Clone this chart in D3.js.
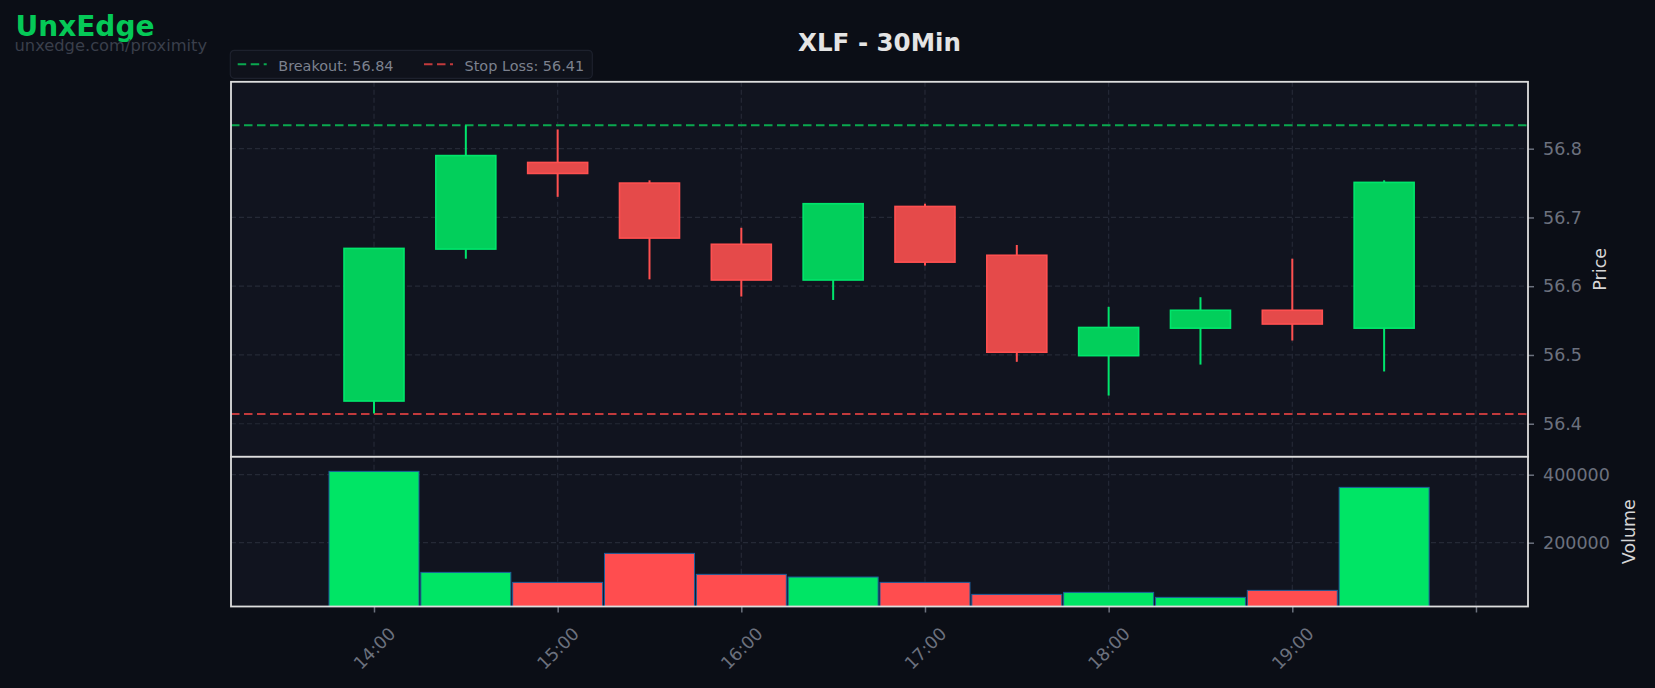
<!DOCTYPE html>
<html>
<head>
<meta charset="utf-8">
<script src="https://cdn.jsdelivr.net/npm/d3@7"></script>
<style>
    html, body { margin: 0; padding: 0; background: #0b0e16; }
    svg { display: block; font-family: "DejaVu Sans", sans-serif; }
    .tickLabel { fill: #6c717e; font-size: 17.5px; }
    .axisTitle { fill: #d6d6d6; font-size: 17.5px; }
    .legendText { fill: #7c818e; font-size: 14.4px; }
</style>
</head>
<body>
<div id="wrapper"></div>
<script>

// candles (30 min)
const times = ["14:00", "14:30", "15:00", "15:30", "16:00", "16:30", "17:00", "17:30", "18:00", "18:30", "19:00", "19:30"];
const opens = [56.433, 56.654, 56.780, 56.750, 56.661, 56.609, 56.716, 56.645, 56.499, 56.539, 56.565, 56.539];
const highs = [56.655, 56.834, 56.828, 56.754, 56.685, 56.721, 56.720, 56.660, 56.570, 56.584, 56.640, 56.754];
const lows = [56.415, 56.640, 56.730, 56.610, 56.585, 56.580, 56.630, 56.490, 56.441, 56.486, 56.521, 56.476];
const closes = [56.655, 56.790, 56.764, 56.670, 56.609, 56.720, 56.635, 56.504, 56.540, 56.565, 56.545, 56.751];
const volumes = [409800, 112700, 83300, 168600, 106900, 99000, 83300, 48000, 53900, 39200, 59800, 362700];

// ticks
const priceTicks = [56.4, 56.5, 56.6, 56.7, 56.8];
const volumeTicks = [200000, 400000];
const hourTicks = ["14:00", "15:00", "16:00", "17:00", "18:00", "19:00", "20:00"];
const hourLabels = ["14:00", "15:00", "16:00", "17:00", "18:00", "19:00", ""];

// levels
const levelNames = ["Breakout", "Stop Loss"];
const levelValues = [56.834, 56.414];
const levelLabels = ["56.84", "56.41"];


function drawChart() {

    const green = "#02cf5b";
    const greenEdge = "#00e66c";
    const red = "#e54a4a";
    const redEdge = "#ff5050";

    let dimensions = {
        width: 1655,
        height: 688,
        margin: {
            top: 81.8,
            right: 127,
            bottom: 81.5,
            left: 231
        },
        priceH: 375,
        volH: 149.7
    };
    dimensions.boundedW = dimensions.width - dimensions.margin.left - dimensions.margin.right;

    const parseTime = d3.timeParse("%H:%M");
    const parseTimeSec = d3.timeParse("%H:%M:%S");

    const candles = times.map((t, i) => ({
        date: parseTime(t),
        open: opens[i],
        high: highs[i],
        low: lows[i],
        close: closes[i],
        volume: volumes[i],
        up: closes[i] >= opens[i]
    }));

    const wrapper = d3.select('#wrapper')
        .append('svg')
        .attr('width', dimensions.width)
        .attr('height', dimensions.height);

    wrapper.append("rect")
        .attr("width", dimensions.width)
        .attr("height", dimensions.height)
        .attr("fill", "#0b0e16");

    /// SCALES //////////////////////////////////////////
    const x = d3.scaleTime()
        .domain([parseTimeSec("13:13:17"), parseTimeSec("20:17:00")])
        .range([0, dimensions.boundedW]);

    const yPrice = d3.scaleLinear()
        .domain([56.3519, 56.8973])
        .range([dimensions.priceH, 0]);

    const yVol = d3.scaleLinear()
        .domain([12350, 452650])
        .range([dimensions.volH, 0]);

    const minutes = m => m * 60 * 1000;
    const hourDates = hourTicks.map(parseTime);

    /// PANELS //////////////////////////////////////////
    const pricePanel = wrapper.append('g')
        .attr('transform', `translate(${dimensions.margin.left}, ${dimensions.margin.top})`);

    const volPanel = wrapper.append('g')
        .attr('transform', `translate(${dimensions.margin.left}, ${dimensions.margin.top + dimensions.priceH})`);

    pricePanel.append("rect")
        .attr("width", dimensions.boundedW)
        .attr("height", dimensions.priceH)
        .attr("fill", "#11141f");

    volPanel.append("rect")
        .attr("width", dimensions.boundedW)
        .attr("height", dimensions.volH)
        .attr("fill", "#11141f");

    /// GRID ////////////////////////////////////////////
    [[pricePanel, dimensions.priceH], [volPanel, dimensions.volH]].forEach(([panel, h]) => {
        panel.selectAll(".vgrid")
            .data(hourDates)
            .enter()
            .append("line")
            .attr("x1", d => x(d))
            .attr("x2", d => x(d))
            .attr("y1", 0)
            .attr("y2", h)
            .style("stroke", "#252936")
            .style("stroke-width", 1.2)
            .style("stroke-dasharray", "5,3");
    });

    pricePanel.selectAll(".hgrid")
        .data(priceTicks)
        .enter()
        .append("line")
        .attr("x1", 0)
        .attr("x2", dimensions.boundedW)
        .attr("y1", d => yPrice(d))
        .attr("y2", d => yPrice(d))
        .style("stroke", "#252936")
        .style("stroke-width", 1.2)
        .style("stroke-dasharray", "5,3");

    volPanel.selectAll(".hgrid")
        .data(volumeTicks)
        .enter()
        .append("line")
        .attr("x1", 0)
        .attr("x2", dimensions.boundedW)
        .attr("y1", d => yVol(d))
        .attr("y2", d => yVol(d))
        .style("stroke", "#252936")
        .style("stroke-width", 1.2)
        .style("stroke-dasharray", "5,3");

    /// LEVEL LINES /////////////////////////////////////
    const levelColors = ["#0aa84f", "#c23a3c"];

    pricePanel.selectAll(".level")
        .data(levelValues)
        .enter()
        .append("line")
        .attr("x1", 0)
        .attr("x2", dimensions.boundedW)
        .attr("y1", d => yPrice(d))
        .attr("y2", d => yPrice(d))
        .style("stroke", (d, i) => levelColors[i])
        .style("stroke-width", 2)
        .style("stroke-dasharray", "8.5,4.5");

    /// CANDLES /////////////////////////////////////////
    pricePanel.selectAll(".wick")
        .data(candles)
        .enter()
        .append("line")
        .attr("x1", d => x(d.date))
        .attr("x2", d => x(d.date))
        .attr("y1", d => yPrice(d.high))
        .attr("y2", d => yPrice(d.low))
        .style("stroke", d => d.up ? greenEdge : redEdge)
        .style("stroke-width", 2);

    pricePanel.selectAll(".body")
        .data(candles)
        .enter()
        .append("rect")
        .attr("x", d => x(new Date(+d.date - minutes(9.8))))
        .attr("width", d => x(new Date(+d.date + minutes(9.8))) - x(new Date(+d.date - minutes(9.8))))
        .attr("y", d => yPrice(Math.max(d.open, d.close)))
        .attr("height", d => Math.abs(yPrice(d.open) - yPrice(d.close)))
        .attr("fill", d => d.up ? green : red)
        .style("stroke", d => d.up ? greenEdge : redEdge)
        .style("stroke-width", 1.6);

    /// VOLUME //////////////////////////////////////////
    volPanel.selectAll(".vol")
        .data(candles)
        .enter()
        .append("rect")
        .attr("x", d => x(new Date(+d.date - minutes(14.7))))
        .attr("width", d => x(new Date(+d.date + minutes(14.7))) - x(new Date(+d.date - minutes(14.7))))
        .attr("y", d => yVol(d.volume))
        .attr("height", d => dimensions.volH - yVol(d.volume))
        .attr("fill", d => d.up ? "#00e565" : "#ff4d4f")
        .style("stroke", "#1d5e9c")
        .style("stroke-width", 1);

    /// AXES ////////////////////////////////////////////
    const priceAxis = d3.axisRight(yPrice)
        .tickValues(priceTicks)
        .tickFormat(d3.format(".1f"))
        .tickSize(6)
        .tickPadding(9);

    const volAxis = d3.axisRight(yVol)
        .tickValues(volumeTicks)
        .tickFormat(d3.format("d"))
        .tickSize(6)
        .tickPadding(9);

    const timeAxis = d3.axisBottom(x)
        .tickValues(hourDates)
        .tickFormat((d, i) => hourLabels[i])
        .tickSize(6)
        .tickPadding(0);

    const gPriceAxis = pricePanel.append("g")
        .attr("transform", `translate(${dimensions.boundedW}, 0)`)
        .call(priceAxis);

    const gVolAxis = volPanel.append("g")
        .attr("transform", `translate(${dimensions.boundedW}, 0)`)
        .call(volAxis);

    const gTimeAxis = volPanel.append("g")
        .attr("transform", `translate(0, ${dimensions.volH})`)
        .call(timeAxis);

    [gPriceAxis, gVolAxis, gTimeAxis].forEach(g => {
        g.select(".domain").remove();
        g.selectAll(".tick line")
            .style("stroke", "#6c717e")
            .style("stroke-width", 1.5);
        g.selectAll(".tick text")
            .attr("class", "tickLabel")
            .attr("fill", null);
        g.attr("font-family", null).attr("font-size", null);
    });

    gTimeAxis.selectAll(".tick text")
        .attr("y", null)
        .attr("dy", null)
        .attr("text-anchor", "middle")
        .attr("dominant-baseline", "central")
        .attr("transform", "translate(0, 42) rotate(-45)");

    // Achsentitel rechts
    wrapper.append("text")
        .attr("class", "axisTitle")
        .attr("text-anchor", "middle")
        .attr("dominant-baseline", "central")
        .attr("transform", `translate(1600, ${dimensions.margin.top + dimensions.priceH / 2}) rotate(-90)`)
        .text("Price");

    wrapper.append("text")
        .attr("class", "axisTitle")
        .attr("text-anchor", "middle")
        .attr("dominant-baseline", "central")
        .attr("transform", `translate(1628.5, ${dimensions.margin.top + dimensions.priceH + dimensions.volH / 2}) rotate(-90)`)
        .text("Volume");

    /// SPINES //////////////////////////////////////////
    pricePanel.append("rect")
        .attr("width", dimensions.boundedW)
        .attr("height", dimensions.priceH)
        .attr("fill", "none")
        .style("stroke", "#dedede")
        .style("stroke-width", 1.8);

    volPanel.append("rect")
        .attr("width", dimensions.boundedW)
        .attr("height", dimensions.volH)
        .attr("fill", "none")
        .style("stroke", "#dedede")
        .style("stroke-width", 1.8);

    /// TITLE + WATERMARK ///////////////////////////////
    wrapper.append("text")
        .attr("x", dimensions.margin.left + dimensions.boundedW / 2)
        .attr("y", 51)
        .attr("text-anchor", "middle")
        .style("font-size", "24.5px")
        .style("font-weight", "bold")
        .style("fill", "#e4e4e4")
        .text("XLF - 30Min");

    wrapper.append("text")
        .attr("x", 15.5)
        .attr("y", 35.7)
        .style("font-size", "28px")
        .style("font-weight", "bold")
        .style("fill", "#05c957")
        .text("UnxEdge");

    wrapper.append("text")
        .attr("x", 14.5)
        .attr("y", 50.7)
        .style("font-size", "16.3px")
        .style("fill", "#3a3f4b")
        .text("unxedge.com/proximity");

    /// LEGEND //////////////////////////////////////////
    const legend = wrapper.append("g")
        .attr("transform", "translate(230.3, 50.3)");

    legend.append("rect")
        .attr("width", 362)
        .attr("height", 28)
        .attr("rx", 4)
        .attr("fill", "#0f121b")
        .style("stroke", "#1d212d")
        .style("stroke-width", 1.2);

    const itemX = [7.4, 193.7];

    const items = legend.selectAll(".item")
        .data(levelNames)
        .enter()
        .append("g")
        .attr("transform", (d, i) => `translate(${itemX[i]}, 0)`);

    items.append("line")
        .attr("x1", 0)
        .attr("x2", 29)
        .attr("y1", 14)
        .attr("y2", 14)
        .style("stroke", (d, i) => levelColors[i])
        .style("stroke-width", 2)
        .style("stroke-dasharray", "8.5,4.5");

    items.append("text")
        .attr("class", "legendText")
        .attr("x", 40.6)
        .attr("y", 20.4)
        .text((d, i) => d + ": " + levelLabels[i]);
}

drawChart()
</script>
</body>
</html>
